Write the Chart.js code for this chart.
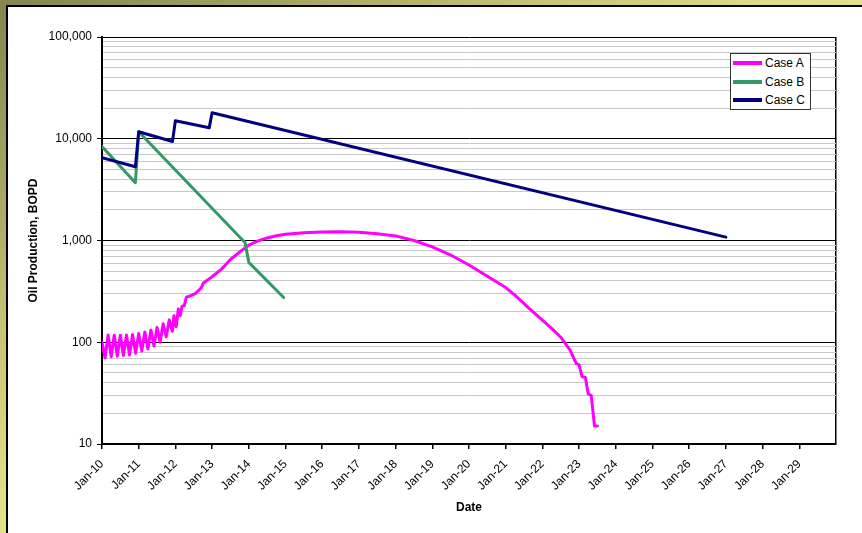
<!DOCTYPE html>
<html>
<head>
<meta charset="utf-8">
<script src="https://cdn.jsdelivr.net/npm/chart.js@4.4.1/dist/chart.umd.min.js"></script>
<style>
  html, body { margin: 0; padding: 0; width: 862px; height: 533px; overflow: hidden; }
  body {
    position: relative;
    font-family: Arial, "Liberation Sans", sans-serif;
    background: linear-gradient(to bottom right, #868450 0%, #a8a662 18%, #c8c676 32%, #dedc86 45%, #ecec92 60%, #f6f6a0 100%);
  }
  #panel { position: absolute; left: 6px; top: 5px; width: 900px; height: 600px; background: #fff; border: 2px solid #000; }
  #chart { position: absolute; left: 0; top: 0; }
  #legend {
    position: absolute; left: 730px; top: 53px; width: 79px; height: 55px;
    border: 1px solid #333; background: #fff; font-size: 12px; color: #000;
  }
  #legend .row { position: absolute; left: 0; height: 14px; width: 79px; }
  #legend .swatch { position: absolute; left: 2px; top: 5px; width: 29px; height: 4px; }
  #legend .label { position: absolute; left: 34px; top: 0; line-height: 14px; white-space: nowrap; }
</style>
</head>
<body>
<div id="panel"></div>
<canvas id="chart" width="862" height="533"></canvas>
<div id="legend"></div>
<script>
const xTickLabels = ['Jan-10', 'Jan-11', 'Jan-12', 'Jan-13', 'Jan-14', 'Jan-15', 'Jan-16', 'Jan-17', 'Jan-18', 'Jan-19',
  'Jan-20', 'Jan-21', 'Jan-22', 'Jan-23', 'Jan-24', 'Jan-25', 'Jan-26', 'Jan-27', 'Jan-28', 'Jan-29'];
const yMajorTicks = [10, 100, 1000, 10000, 100000];
const yTickLabels = ['10', '100', '1,000', '10,000', '100,000'];

// dates as decimal years
const caseAYears = [2010.000, 2010.083, 2010.167, 2010.250, 2010.333, 2010.417, 2010.500, 2010.583, 2010.667, 2010.750,
  2010.833, 2010.917, 2011.000, 2011.083, 2011.167, 2011.250, 2011.333, 2011.417, 2011.500, 2011.583,
  2011.667, 2011.750, 2011.833, 2011.917, 2011.960, 2012.020, 2012.080, 2012.130, 2012.180, 2012.240,
  2012.300, 2012.400, 2012.540, 2012.620, 2012.700, 2012.760, 2012.880, 2013.000, 2013.250, 2013.500,
  2013.750, 2014.000, 2014.250, 2014.500, 2014.750, 2015.000, 2015.500, 2016.000, 2016.500, 2017.000,
  2017.500, 2018.000, 2018.500, 2019.000, 2019.500, 2020.000, 2020.500, 2021.000, 2021.250, 2021.500,
  2021.750, 2022.000, 2022.250, 2022.500, 2022.750, 2022.920, 2023.000, 2023.080, 2023.170, 2023.250,
  2023.330, 2023.420, 2023.500];
const caseAValues = [100, 70, 118, 72, 117, 73, 117, 74, 118, 75,
  119, 78, 122, 82, 126, 86, 132, 92, 140, 100,
  152, 113, 166, 128, 182, 142, 212, 182, 226, 228,
  278, 285, 300, 320, 340, 380, 410, 440, 520, 650,
  770, 900, 990, 1060, 1115, 1150, 1190, 1215, 1222, 1205,
  1165, 1110, 1000, 865, 720, 575, 445, 345, 290, 240,
  198, 165, 137, 112, 84, 62, 60, 46, 45, 31,
  30, 15, 15];

const caseBYears = [2010.0, 2010.91, 2011.0, 2013.9, 2014.0, 2014.95];
const caseBValues = [8400, 3700, 11700, 950, 610, 275];

const caseCYears = [2010.0, 2010.91, 2011.0, 2011.92, 2012.0, 2012.92, 2013.0, 2027.0];
const caseCValues = [6500, 5300, 11700, 9400, 15000, 12800, 18000, 1080];

const seriesNames = ['Case A', 'Case B', 'Case C'];
const seriesColors = ['#ff00ff', '#339966', '#000080'];

function toPoints(xs, ys) {
  return xs.map((x, i) => ({ x: x, y: ys[i] }));
}

const datasets = [
  { label: seriesNames[0], data: toPoints(caseAYears, caseAValues), borderColor: seriesColors[0], order: 2 },
  { label: seriesNames[1], data: toPoints(caseBYears, caseBValues), borderColor: seriesColors[1], order: 1 },
  { label: seriesNames[2], data: toPoints(caseCYears, caseCValues), borderColor: seriesColors[2], order: 0 }
];

const isMajor = v => yMajorTicks.indexOf(v) >= 0;
const baseFont = { family: 'Arial, "Liberation Sans", sans-serif', size: 12 };

const config = {
  type: 'line',
  data: { datasets: datasets },
  options: {
    responsive: false,
    animation: false,
    layout: { padding: { left: 0, top: 37, right: 26, bottom: 0 } },
    elements: {
      point: { radius: 0 },
      line: { borderWidth: 3, tension: 0, fill: false, borderJoinStyle: 'round', borderCapStyle: 'round' }
    },
    plugins: {
      legend: { display: false },
      tooltip: { enabled: false }
    },
    scales: {
      x: {
        type: 'linear',
        min: 2010,
        max: 2030,
        afterBuildTicks: scale => {
          scale.ticks = xTickLabels.map((l, i) => ({ value: 2010 + i })).concat([{ value: 2030 }]);
        },
        afterFit: scale => { scale.height = 89; },
        ticks: {
          autoSkip: false, minRotation: 45, maxRotation: 45, padding: 8, color: '#000', font: baseFont,
          callback: (v, i) => xTickLabels[i] || ''
        },
        grid: {
          drawOnChartArea: true,
          color: ctx => (ctx.tick && ctx.tick.value === 2030) ? '#000' : 'rgba(0,0,0,0)',
          tickColor: ctx => (ctx.tick && ctx.tick.value === 2030) ? 'rgba(0,0,0,0)' : '#000',
          tickLength: 5,
          lineWidth: 1.5
        },
        border: { color: '#000', width: 2 },
        title: {
          display: true, text: 'Date', color: '#000',
          font: { family: baseFont.family, size: 12, weight: 'bold' },
          padding: { top: 0, bottom: 18 }
        }
      },
      y: {
        type: 'logarithmic',
        min: 10,
        max: 100000,
        afterBuildTicks: scale => {
          const t = [];
          for (let e = 1; e <= 4; e++) {
            for (let k = 1; k <= 9; k++) t.push({ value: k * Math.pow(10, e) });
          }
          t.push({ value: 100000 });
          scale.ticks = t;
        },
        afterFit: scale => { scale.width = 102; },
        ticks: {
          autoSkip: false, padding: 5, color: '#000', font: baseFont,
          callback: v => isMajor(v) ? yTickLabels[yMajorTicks.indexOf(v)] : ''
        },
        grid: {
          color: ctx => (ctx.tick && isMajor(ctx.tick.value)) ? '#000' : '#c8c8c8',
          tickColor: ctx => (ctx.tick && isMajor(ctx.tick.value)) ? '#000' : 'rgba(0,0,0,0)',
          tickLength: 5,
          lineWidth: 1
        },
        border: { color: '#000', width: 2 },
        title: {
          display: true, text: 'Oil Production, BOPD', color: '#000',
          font: { family: baseFont.family, size: 12, weight: 'bold' },
          padding: { top: 26, bottom: 0 }
        }
      }
    }
  }
};

const chart = new Chart(document.getElementById('chart').getContext('2d'), config);

// boxed legend, like the original
const legendEl = document.getElementById('legend');
seriesNames.forEach((name, i) => {
  const row = document.createElement('div');
  row.className = 'row';
  row.style.top = (2 + i * 18.5) + 'px';
  row.innerHTML = '<span class="swatch" style="background:' + seriesColors[i] + '"></span><span class="label">' + name + '</span>';
  legendEl.appendChild(row);
});
</script>
</body>
</html>
